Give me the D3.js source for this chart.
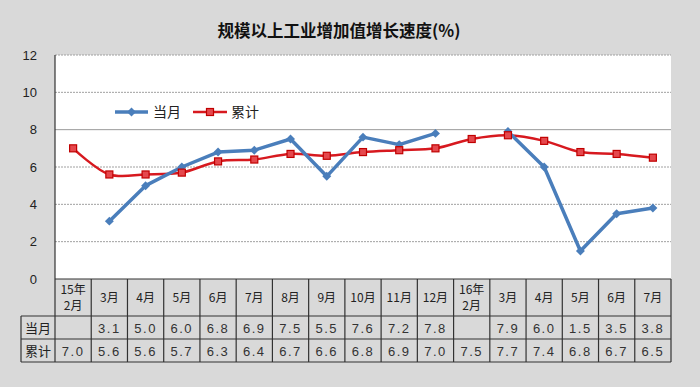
<!DOCTYPE html>
<html><head><meta charset="utf-8">
<script src="https://cdn.jsdelivr.net/npm/d3@7"></script>
<style>body{margin:0;background:#d9d9d9;}svg{display:block;}</style>
</head><body>
<svg id="c" width="700" height="387"></svg>
<script>
const categories = ["15年\n2月","3月","4月","5月","6月","7月","8月","9月","10月","11月","12月","16年\n2月","3月","4月","5月","6月","7月"];
const monthly = [null,3.1,5.0,6.0,6.8,6.9,7.5,5.5,7.6,7.2,7.8,null,7.9,6.0,1.5,3.5,3.8];
const cumulative = [7.0,5.6,5.6,5.7,6.3,6.4,6.7,6.6,6.8,6.9,7.0,7.5,7.7,7.4,6.8,6.7,6.5];
const yTicks = [0,2,4,6,8,10,12];
const seriesNames = ["当月","累计"];
const title = "规模以上工业增加值增长速度(%)";

const svg = d3.select("#c");
const L=55,R=671,T=55,B=279;
const fontCJK = "'Noto Sans CJK SC', 'Liberation Sans', sans-serif";
const fontNum = "'Liberation Sans', 'DejaVu Sans', sans-serif";

svg.append("rect").attr("width",700).attr("height",387).attr("fill","#d9d9d9");
svg.append("rect").attr("x",L).attr("y",T).attr("width",R-L).attr("height",B-T).attr("fill","#fff");

const x = d3.scaleBand().domain(d3.range(categories.length)).range([L,R]).padding(0);
const y = d3.scaleLinear().domain([0,12]).range([B,T]);
const cx = i => x(i)+x.bandwidth()/2;

// gridlines
svg.append("g").selectAll("line").data(yTicks.filter(d=>d>0)).join("line")
  .attr("x1",L).attr("x2",R).attr("y1",d=>y(d)).attr("y2",d=>y(d))
  .attr("stroke",d=>d===8?"#9a9a9a":"#a0a0a0")
  .attr("stroke-width",1)
  .attr("stroke-dasharray",d=>d===8?null:"2,1");

// y axis
const yAxis = d3.axisLeft(y).tickValues(yTicks).tickSize(0).tickPadding(0).tickFormat(d3.format("d"));
const ga = svg.append("g").attr("transform",`translate(37,0)`).call(yAxis);
ga.select(".domain").remove();
ga.selectAll("text").attr("font-family",fontNum).attr("font-size",13).attr("fill","#222");
svg.append("line").attr("x1",L).attr("x2",L).attr("y1",T).attr("y2",B).attr("stroke","#333").attr("stroke-width",1.2);

// title
svg.append("text").attr("x",339).attr("y",37).attr("text-anchor","middle")
  .attr("font-family",fontCJK).attr("font-weight","bold").attr("font-size",16.5).attr("fill","#111").text(title);

// table
const rows=[[279,316],[316,339],[339,362]];
const tbl = svg.append("g");
[279,316,339,362].forEach((yy,k)=>{
  tbl.append("line").attr("x1",k===0?L:21).attr("x2",R).attr("y1",yy).attr("y2",yy).attr("stroke","#333").attr("stroke-width",1.2);
});
const vx = d3.range(categories.length+1).map(i=> i<categories.length ? x(i) : R);
vx.forEach(v=>{
  tbl.append("line").attr("x1",v).attr("x2",v).attr("y1",279).attr("y2",362).attr("stroke","#333").attr("stroke-width",1.2);
});
tbl.append("line").attr("x1",21).attr("x2",21).attr("y1",316).attr("y2",362).attr("stroke","#333").attr("stroke-width",1.2);

categories.forEach((c,i)=>{
  const parts=c.split("\n");
  const t=tbl.append("text").attr("text-anchor","middle").attr("font-family",fontCJK).attr("font-size",12).attr("fill","#222");
  if(parts.length===1){
    t.append("tspan").attr("x",cx(i)).attr("y",302).text(parts[0]);
  } else {
    t.append("tspan").attr("x",cx(i)).attr("y",294).text(parts[0]);
    t.append("tspan").attr("x",cx(i)).attr("y",310).text(parts[1]);
  }
});
seriesNames.forEach((n,k)=>{
  tbl.append("text").attr("x",38).attr("y",rows[k+1][0]+17).attr("text-anchor","middle")
    .attr("font-family",fontCJK).attr("font-size",13).attr("fill","#222").text(n);
});
[monthly,cumulative].forEach((arr,k)=>{
  arr.forEach((v,i)=>{
    if(v==null) return;
    tbl.append("text").attr("x",cx(i)).attr("y",rows[k+1][0]+16.5).attr("text-anchor","middle")
      .attr("font-family",fontNum).attr("font-size",13).attr("letter-spacing",1.5).attr("fill","#333")
      .text(d3.format(".1f")(v));
  });
});

// lines
const blue="#4a7ebb", red="#d7191f";
const lineB = d3.line().defined(d=>d.v!=null).x(d=>cx(d.i)).y(d=>y(d.v));
const lineR = d3.line().x(d=>cx(d.i)).y(d=>y(d.v)).curve(d3.curveCatmullRom.alpha(0.5));
const dB = monthly.map((v,i)=>({v,i}));
const dR = cumulative.map((v,i)=>({v,i}));
svg.append("path").attr("d",lineR(dR)).attr("fill","none").attr("stroke",red).attr("stroke-width",2.5);
svg.append("path").attr("d",lineB(dB)).attr("fill","none").attr("stroke",blue).attr("stroke-width",3.5).attr("stroke-linejoin","round");
svg.append("g").selectAll("path").data(dB.filter(d=>d.v!=null)).join("path")
  .attr("d",d3.symbol().type(d3.symbolSquare).size(40))
  .attr("transform",d=>`translate(${cx(d.i)},${y(d.v)}) rotate(45)`).attr("fill",blue);
svg.append("g").selectAll("rect").data(dR).join("rect")
  .attr("x",d=>cx(d.i)-3.5).attr("y",d=>y(d.v)-3.5).attr("width",7).attr("height",7)
  .attr("fill","#e5484d").attr("stroke","#c00000").attr("stroke-width",1.2);

// legend
const lg = svg.append("g");
lg.append("line").attr("x1",115).attr("x2",148).attr("y1",112).attr("y2",112).attr("stroke",blue).attr("stroke-width",3.5);
lg.append("path").attr("d",d3.symbol().type(d3.symbolSquare).size(40)).attr("transform","translate(131.5,112) rotate(45)").attr("fill",blue);
lg.append("text").attr("x",153).attr("y",117).attr("font-family",fontCJK).attr("font-size",14).attr("fill","#222").text(seriesNames[0]);
lg.append("line").attr("x1",193).attr("x2",227).attr("y1",112).attr("y2",112).attr("stroke",red).attr("stroke-width",2.5);
lg.append("rect").attr("x",206.5).attr("y",108.5).attr("width",7).attr("height",7).attr("fill","#e5484d").attr("stroke","#c00000").attr("stroke-width",1.2);
lg.append("text").attr("x",231).attr("y",117).attr("font-family",fontCJK).attr("font-size",14).attr("fill","#222").text(seriesNames[1]);
</script>
</body></html>
